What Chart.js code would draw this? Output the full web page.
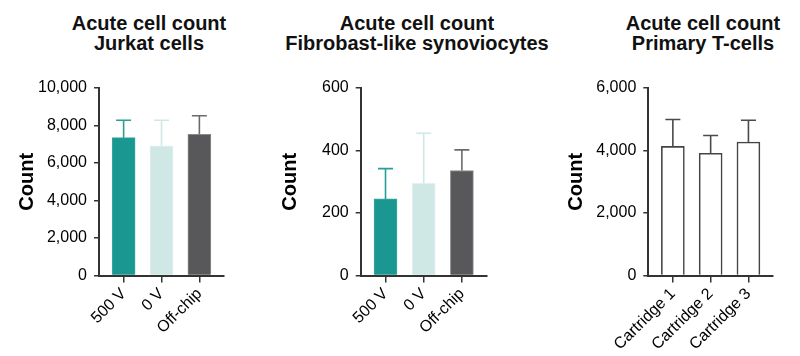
<!DOCTYPE html>
<html lang="en">
<head>
  <meta charset="UTF-8">
  <title>Acute cell count</title>
  <script src="https://cdn.jsdelivr.net/npm/chart.js"></script>
  <style>
    body {
      margin: 0;
      background: #fff;
      font-family: 'Liberation Sans', Arial, sans-serif;
    }
    #wrap {
      position: relative;
      width: 800px;
      height: 356px;
      overflow: hidden;
    }
    .panel {
      position: absolute;
      top: 0;
      height: 356px;
    }
    .title {
      position: absolute;
      top: 14px;
      transform: translateX(-50%);
      white-space: nowrap;
      text-align: center;
      font-weight: bold;
      font-size: 20px;
      line-height: 19.5px;
      color: #111;
    }
  </style>
</head>
<body>
  <div id="wrap">
    <div class="title" style="left:149px">Acute cell count<br>Jurkat cells</div>
    <div class="title" style="left:417px">Acute cell count<br>Fibrobast-like synoviocytes</div>
    <div class="title" style="left:703px">Acute cell count<br>Primary T-cells</div>

    <div class="panel" style="left:0;width:265px"><canvas id="jurkat"></canvas></div>
    <div class="panel" style="left:265px;width:265px"><canvas id="fls"></canvas></div>
    <div class="panel" style="left:530px;width:270px"><canvas id="tcell"></canvas></div>
  </div>

  <script>
    // data
    const jurkatLabels = ['500 V', '0 V', 'Off-chip'];
    const jurkatMean = [7350, 6920, 7530];
    const jurkatSD = [930, 1360, 990];
    const jurkatTicks = [0, 2000, 4000, 6000, 8000, 10000];

    const flsLabels = ['500 V', '0 V', 'Off-chip'];
    const flsMean = [245, 295, 336];
    const flsSD = [97, 160, 66];
    const flsTicks = [0, 200, 400, 600];

    const tcellLabels = ['Cartridge 1', 'Cartridge 2', 'Cartridge 3'];
    const tcellMean = [4130, 3910, 4270];
    const tcellSD = [860, 570, 700];
    const tcellTicks = [0, 2000, 4000, 6000];

    const axisColor = '#333';
    const textColor = '#000';

    // upward SD whiskers drawn from the y scale
    const errorBars = {
      id: 'errorBars',
      afterDatasetsDraw(chart) {
        const ctx = chart.ctx;
        const ds = chart.data.datasets[0];
        const yScale = chart.scales.y;
        chart.getDatasetMeta(0).data.forEach((bar, i) => {
          const top = yScale.getPixelForValue(ds.mean[i] + ds.sd[i]);
          ctx.save();
          ctx.strokeStyle = ds.errColor[i];
          ctx.lineWidth = 1.6;
          ctx.beginPath();
          ctx.moveTo(bar.x, bar.y);
          ctx.lineTo(bar.x, top);
          ctx.moveTo(bar.x - 7.5, top);
          ctx.lineTo(bar.x + 7.5, top);
          ctx.stroke();
          ctx.restore();
        });
      }
    };

    function makeChart(id, labels, mean, sd, ticks, look) {
      return new Chart(document.getElementById(id), {
        type: 'bar',
        data: {
          datasets: [{
            data: mean.map((v, i) => ({ x: i, y: v })),
            mean: mean,
            sd: sd,
            backgroundColor: look.fill,
            borderColor: look.border,
            borderWidth: look.borderWidth,
            errColor: look.err,
            barThickness: 23
          }]
        },
        options: {
          responsive: true,
          maintainAspectRatio: false,
          animation: false,
          layout: { padding: { left: 0, right: look.padRight, top: 88, bottom: 0 } },
          plugins: { legend: { display: false }, tooltip: { enabled: false } },
          scales: {
            x: {
              type: 'linear',
              offset: false,
              min: -0.65,
              max: 2.65,
              afterBuildTicks: s => { s.ticks = labels.map((_, i) => ({ value: i })); },
              afterFit: s => { s.height = 80.5; },
              ticks: {
                autoSkip: false,
                minRotation: 45,
                maxRotation: 45,
                padding: 2,
                color: textColor,
                font: { family: 'Liberation Sans', size: 16 },
                callback: v => labels[v]
              },
              grid: { drawOnChartArea: false, offset: false, tickLength: 7, color: axisColor, lineWidth: 1.5 },
              border: { color: axisColor, width: 2 }
            },
            y: {
              min: 0,
              max: ticks[ticks.length - 1],
              afterBuildTicks: s => { s.ticks = ticks.map(v => ({ value: v })); },
              afterFit: s => { s.width = look.yWidth; },
              ticks: {
                padding: 7,
                color: textColor,
                font: { family: 'Liberation Sans', size: 16 },
                callback: v => v.toLocaleString('en-US')
              },
              grid: { drawOnChartArea: false, tickLength: 5, color: axisColor, lineWidth: 1.5 },
              border: { color: axisColor, width: 2 },
              title: {
                display: true,
                text: 'Count',
                color: '#000',
                font: { family: 'Liberation Sans', size: 20, weight: 'bold' },
                padding: { top: look.countPad, bottom: 0 }
              }
            }
          }
        },
        plugins: [errorBars]
      });
    }

    const colored = ['#1a9790', '#cfe8e5', '#58585a'];
    const coloredEdge = ['#3aa9a2', '#e2f1ef', '#8a8a8a'];
    const coloredErr = ['#2a9d96', '#cfe8e5', '#6b6b6b'];

    makeChart('jurkat', jurkatLabels, jurkatMean, jurkatSD, jurkatTicks, {
      fill: colored, border: coloredEdge, borderWidth: 1, err: coloredErr,
      yWidth: 99, padRight: 41, countPad: 15
    });
    makeChart('fls', flsLabels, flsMean, flsSD, flsTicks, {
      fill: colored, border: coloredEdge, borderWidth: 1, err: coloredErr,
      yWidth: 95.7, padRight: 43.3, countPad: 13
    });
    makeChart('tcell', tcellLabels, tcellMean, tcellSD, tcellTicks, {
      fill: '#ffffff', border: '#444', borderWidth: 1.6, err: ['#4a4a4a', '#4a4a4a', '#4a4a4a'],
      yWidth: 118.3, padRight: 27, countPad: 34.7
    });
  </script>
</body>
</html>
